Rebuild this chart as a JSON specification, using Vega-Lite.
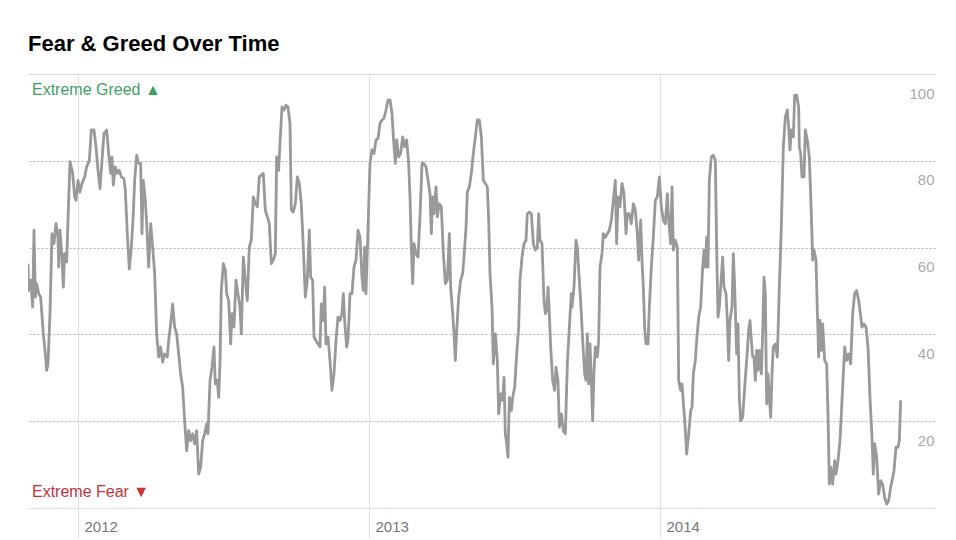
{
  "$schema": "https://vega.github.io/schema/vega-lite/v6.json",
  "width": 907,
  "height": 434,
  "autosize": {"type": "none"},
  "padding": {"left": 28, "top": 74, "right": 21, "bottom": 32},
  "background": "white",
  "title": {"text": "Fear & Greed Over Time", "anchor": "start", "frame": "group", "fontSize": 22, "fontWeight": "bold", "color": "#000000", "offset": 18, "font": "Liberation Sans"},
  "config": {"view": {"stroke": null}, "font": "Liberation Sans"},
  "layer": [
    {
      "data": {"values": [
{"t":2011.8282,"v":56.3},{"t":2011.8305,"v":50.1},{"t":2011.8373,"v":52.5},{"t":2011.8442,"v":46.3},{"t":2011.8488,"v":64},{"t":2011.8534,"v":48.6},{"t":2011.858,"v":51.7},{"t":2011.8648,"v":49.4},{"t":2011.8717,"v":48.6},{"t":2011.8809,"v":40.1},{"t":2011.8877,"v":35.5},{"t":2011.8923,"v":31.7},{"t":2011.8969,"v":33.2},{"t":2011.9038,"v":44.8},{"t":2011.9106,"v":63.2},{"t":2011.9175,"v":60.9},{"t":2011.9244,"v":65.5},{"t":2011.9313,"v":62.4},{"t":2011.9336,"v":55.5},{"t":2011.9381,"v":64},{"t":2011.945,"v":57.8},{"t":2011.9496,"v":50.9},{"t":2011.9542,"v":58.6},{"t":2011.961,"v":56.7},{"t":2011.9656,"v":66.3},{"t":2011.9725,"v":79.8},{"t":2011.9817,"v":77.1},{"t":2011.9885,"v":71.7},{"t":2011.9931,"v":70.9},{"t":2012.0,"v":75.5},{"t":2012.0069,"v":72.8},{"t":2012.0137,"v":74.8},{"t":2012.0229,"v":76.3},{"t":2012.0298,"v":78.6},{"t":2012.0389,"v":80.1},{"t":2012.0458,"v":87.1},{"t":2012.055,"v":87.1},{"t":2012.0618,"v":83.2},{"t":2012.0687,"v":77.8},{"t":2012.0756,"v":73.6},{"t":2012.0825,"v":80.1},{"t":2012.0893,"v":86.3},{"t":2012.0985,"v":87.1},{"t":2012.1054,"v":81.7},{"t":2012.1123,"v":77.1},{"t":2012.1168,"v":80.9},{"t":2012.1214,"v":74.4},{"t":2012.1283,"v":78.6},{"t":2012.1352,"v":77.1},{"t":2012.142,"v":77.8},{"t":2012.1489,"v":76.3},{"t":2012.1581,"v":75.9},{"t":2012.1627,"v":73.2},{"t":2012.1695,"v":63.2},{"t":2012.1764,"v":55.1},{"t":2012.1833,"v":60.1},{"t":2012.1901,"v":67.8},{"t":2012.1947,"v":75.5},{"t":2012.2016,"v":81.3},{"t":2012.2085,"v":79.4},{"t":2012.2153,"v":79.4},{"t":2012.2199,"v":63.2},{"t":2012.2245,"v":75.5},{"t":2012.2314,"v":70.9},{"t":2012.236,"v":65.5},{"t":2012.2428,"v":55.5},{"t":2012.2497,"v":65.5},{"t":2012.2566,"v":60.1},{"t":2012.2635,"v":54},{"t":2012.2703,"v":40.1},{"t":2012.2772,"v":34.8},{"t":2012.2841,"v":37.1},{"t":2012.2909,"v":33.6},{"t":2012.2978,"v":35.5},{"t":2012.307,"v":34.8},{"t":2012.3116,"v":38.6},{"t":2012.3184,"v":42.4},{"t":2012.3253,"v":47},{"t":2012.3322,"v":41.7},{"t":2012.3391,"v":40.1},{"t":2012.3459,"v":35.5},{"t":2012.3528,"v":30.9},{"t":2012.3597,"v":27.8},{"t":2012.3665,"v":20.1},{"t":2012.3734,"v":13.2},{"t":2012.3803,"v":17.8},{"t":2012.3872,"v":15.5},{"t":2012.394,"v":17.1},{"t":2012.4009,"v":14.8},{"t":2012.4078,"v":17.8},{"t":2012.4147,"v":7.8},{"t":2012.4215,"v":9.4},{"t":2012.4284,"v":15.5},{"t":2012.4353,"v":17.1},{"t":2012.4421,"v":19.4},
{"t":2012.4467,"v":17.1},{"t":2012.4536,"v":29.4},{"t":2012.4604,"v":32.4},{"t":2012.4673,"v":37.1},{"t":2012.4719,"v":28.6},{"t":2012.4788,"v":29.4},{"t":2012.4834,"v":25.5},{"t":2012.4879,"v":33.2},{"t":2012.4925,"v":50.1},{"t":2012.4994,"v":56.3},{"t":2012.5063,"v":54.8},{"t":2012.5108,"v":49.4},{"t":2012.5177,"v":47.8},{"t":2012.5246,"v":37.8},{"t":2012.5292,"v":44.8},{"t":2012.536,"v":41.7},{"t":2012.5429,"v":52.5},{"t":2012.5498,"v":49.4},{"t":2012.5567,"v":46.3},{"t":2012.5612,"v":40.1},{"t":2012.5681,"v":57.8},{"t":2012.575,"v":52.5},{"t":2012.5819,"v":47.8},{"t":2012.5887,"v":60.1},{"t":2012.5956,"v":61.7},{"t":2012.6025,"v":71.7},{"t":2012.6093,"v":70.1},{"t":2012.6162,"v":69.4},{"t":2012.6231,"v":76.3},{"t":2012.63,"v":76.7},{"t":2012.6368,"v":77.1},{"t":2012.6437,"v":68.6},{"t":2012.6506,"v":67.1},{"t":2012.6575,"v":65.5},{"t":2012.6643,"v":56.3},{"t":2012.6712,"v":57.1},{"t":2012.6781,"v":58.6},{"t":2012.6827,"v":80.9},{"t":2012.6895,"v":77.8},{"t":2012.6941,"v":84},{"t":2012.701,"v":92.4},{"t":2012.7079,"v":91.7},{"t":2012.7147,"v":92.8},{"t":2012.7216,"v":92.4},{"t":2012.7285,"v":88.6},{"t":2012.7331,"v":68.6},{"t":2012.7399,"v":68.2},{"t":2012.7468,"v":70.1},{"t":2012.7537,"v":76.3},{"t":2012.7606,"v":74.8},{"t":2012.7674,"v":70.1},{"t":2012.7743,"v":60.1},{"t":2012.7812,"v":48.6},{"t":2012.788,"v":52.5},{"t":2012.7949,"v":64},{"t":2012.7995,"v":53.2},{"t":2012.8064,"v":52.5},{"t":2012.811,"v":39.4},{"t":2012.8178,"v":38.6},{"t":2012.8247,"v":37.8},{"t":2012.8316,"v":37.1},{"t":2012.8362,"v":47},{"t":2012.843,"v":43.2},{"t":2012.8476,"v":50.9},{"t":2012.8522,"v":37.8},{"t":2012.8591,"v":39.4},{"t":2012.8659,"v":34},{"t":2012.8728,"v":27.1},{"t":2012.8797,"v":30.9},{"t":2012.8866,"v":38.6},{"t":2012.8934,"v":44},{"t":2012.9003,"v":43.2},{"t":2012.9072,"v":44.8},{"t":2012.9118,"v":49.4},{"t":2012.9163,"v":43.2},{"t":2012.9232,"v":37.1},{"t":2012.9278,"v":38.6},{"t":2012.9347,"v":49.4},{"t":2012.9415,"v":49.4},{"t":2012.9484,"v":55.5},{"t":2012.9553,"v":57.1},{"t":2012.9622,"v":64},{"t":2012.969,"v":62.4},{"t":2012.9759,"v":53.2},{"t":2012.9805,"v":50.1},{"t":2012.9851,"v":60.1},{"t":2012.9896,"v":49.4},{"t":2012.9965,"v":64},{"t":2013.0034,"v":79.4},{"t":2013.0103,"v":82.5},{"t":2013.0171,"v":81.7},{"t":2013.024,"v":84.8},{"t":2013.0309,"v":85.1},{"t":2013.0378,"v":88.6},{"t":2013.0446,"v":89.4},{"t":2013.0515,"v":89.8},{"t":2013.0584,"v":91.7},{"t":2013.0653,"v":94},
{"t":2013.0722,"v":94},{"t":2013.0791,"v":90.9},{"t":2013.0837,"v":85.5},{"t":2013.0905,"v":79.4},{"t":2013.0951,"v":84.8},{"t":2013.102,"v":80.9},{"t":2013.1089,"v":81.7},{"t":2013.1157,"v":85.5},{"t":2013.1226,"v":83.2},{"t":2013.1295,"v":84.8},{"t":2013.1363,"v":79.4},{"t":2013.1409,"v":71.7},{"t":2013.1455,"v":60.1},{"t":2013.1501,"v":51.7},{"t":2013.1547,"v":60.9},{"t":2013.1615,"v":58.6},{"t":2013.1684,"v":57.8},{"t":2013.1753,"v":67.1},{"t":2013.1822,"v":79.4},{"t":2013.189,"v":79.4},{"t":2013.1959,"v":78.6},{"t":2013.2028,"v":75.5},{"t":2013.2097,"v":72.4},{"t":2013.2142,"v":63.2},{"t":2013.2188,"v":71.7},{"t":2013.2234,"v":67.8},{"t":2013.2303,"v":74},{"t":2013.2349,"v":67.1},{"t":2013.2417,"v":70.1},{"t":2013.2486,"v":69.4},{"t":2013.2555,"v":58.6},{"t":2013.2624,"v":51.7},{"t":2013.2692,"v":52.5},{"t":2013.2761,"v":63.2},{"t":2013.2807,"v":50.9},{"t":2013.2876,"v":44.8},{"t":2013.2921,"v":40.1},{"t":2013.2967,"v":34},{"t":2013.3013,"v":40.9},{"t":2013.3082,"v":48.6},{"t":2013.315,"v":52.5},{"t":2013.3219,"v":54},{"t":2013.3265,"v":57.8},{"t":2013.3334,"v":64.7},{"t":2013.338,"v":72.8},{"t":2013.3448,"v":74},{"t":2013.3517,"v":77.1},{"t":2013.3586,"v":81.7},{"t":2013.3654,"v":85.5},{"t":2013.3723,"v":89.4},{"t":2013.3792,"v":89.4},{"t":2013.3861,"v":85.5},{"t":2013.3929,"v":75.5},{"t":2013.3998,"v":74.8},{"t":2013.4067,"v":74},{"t":2013.4113,"v":66.3},{"t":2013.4158,"v":54},{"t":2013.4227,"v":46.3},{"t":2013.4273,"v":33.2},{"t":2013.4342,"v":40.1},{"t":2013.441,"v":34},{"t":2013.4456,"v":21.7},{"t":2013.4525,"v":26.3},{"t":2013.4594,"v":24.8},{"t":2013.464,"v":30.1},{"t":2013.4685,"v":17.1},{"t":2013.4731,"v":14.8},{"t":2013.4777,"v":11.7},{"t":2013.4823,"v":25.5},{"t":2013.4892,"v":22.4},{"t":2013.4937,"v":25.5},{"t":2013.5006,"v":27.8},{"t":2013.5075,"v":35.5},{"t":2013.5144,"v":41.7},{"t":2013.5189,"v":52.5},{"t":2013.5258,"v":57.8},{"t":2013.5327,"v":60.9},{"t":2013.5396,"v":61.7},{"t":2013.5441,"v":67.8},{"t":2013.551,"v":68.2},{"t":2013.5579,"v":67.8},{"t":2013.5648,"v":60.9},{"t":2013.5716,"v":59.4},{"t":2013.5785,"v":60.1},{"t":2013.5831,"v":67.8},{"t":2013.5877,"v":61.7},{"t":2013.5945,"v":60.9},{"t":2013.6014,"v":47.8},{"t":2013.606,"v":44.8},{"t":2013.6106,"v":45.5},{"t":2013.6152,"v":50.9},{"t":2013.6197,"v":44.8},{"t":2013.6243,"v":37.1},{"t":2013.6312,"v":29.4},{"t":2013.6381,"v":27.1},{"t":2013.6427,"v":32.4},{"t":2013.6495,"v":29.4},{"t":2013.6541,"v":18.6},{"t":2013.661,"v":21.7},{"t":2013.6679,"v":17.8},{"t":2013.6747,"v":17.1},{"t":2013.6816,"v":33.2},{"t":2013.6885,"v":41.7},{"t":2013.6953,"v":49.4},
{"t":2013.6976,"v":46.3},{"t":2013.7045,"v":50.9},{"t":2013.7113,"v":61.7},{"t":2013.7159,"v":60.1},{"t":2013.7228,"v":52.5},{"t":2013.7297,"v":44.8},{"t":2013.7343,"v":38.6},{"t":2013.7411,"v":30.9},{"t":2013.7457,"v":29.4},{"t":2013.7503,"v":40.1},{"t":2013.7549,"v":28.6},{"t":2013.7595,"v":37.8},{"t":2013.764,"v":29.4},{"t":2013.7686,"v":20.1},{"t":2013.7732,"v":31.7},{"t":2013.7778,"v":37.1},{"t":2013.7847,"v":34.8},{"t":2013.7892,"v":38.6},{"t":2013.7938,"v":55.5},{"t":2013.8007,"v":58.6},{"t":2013.8053,"v":63.2},{"t":2013.8121,"v":62.4},{"t":2013.819,"v":63.2},{"t":2013.8259,"v":64},{"t":2013.8328,"v":66.3},{"t":2013.8396,"v":70.9},{"t":2013.8465,"v":75.5},{"t":2013.8511,"v":60.9},{"t":2013.8557,"v":71.7},{"t":2013.8625,"v":69.4},{"t":2013.8694,"v":74.8},{"t":2013.8763,"v":72.4},{"t":2013.8832,"v":63.2},{"t":2013.8877,"v":67.8},{"t":2013.8946,"v":67.8},{"t":2013.9015,"v":65.5},{"t":2013.9084,"v":70.1},{"t":2013.9152,"v":68.6},{"t":2013.9221,"v":63.2},{"t":2013.9267,"v":57.1},{"t":2013.9336,"v":66.3},{"t":2013.9381,"v":57.1},{"t":2013.9427,"v":50.9},{"t":2013.9473,"v":41.7},{"t":2013.9519,"v":37.8},{"t":2013.9588,"v":37.8},{"t":2013.9634,"v":46.3},{"t":2013.9702,"v":55.5},{"t":2013.9771,"v":62.4},{"t":2013.984,"v":70.9},{"t":2013.9908,"v":71.7},{"t":2013.9977,"v":76.3},{"t":2014.0046,"v":69.4},{"t":2014.0115,"v":66.3},{"t":2014.0183,"v":65.5},{"t":2014.0252,"v":72.4},{"t":2014.0298,"v":66.3},{"t":2014.0367,"v":60.9},{"t":2014.0413,"v":74},{"t":2014.0458,"v":59.4},{"t":2014.0527,"v":61.7},{"t":2014.0596,"v":60.1},{"t":2014.0642,"v":29.4},{"t":2014.071,"v":27.1},{"t":2014.0756,"v":28.6},{"t":2014.0825,"v":22.4},{"t":2014.0871,"v":17.8},{"t":2014.0916,"v":12.4},{"t":2014.0985,"v":17.1},{"t":2014.1054,"v":22.4},{"t":2014.11,"v":23.2},{"t":2014.1146,"v":30.9},{"t":2014.1214,"v":34},{"t":2014.126,"v":38.6},{"t":2014.1329,"v":44},{"t":2014.1398,"v":46.3},{"t":2014.1466,"v":55.5},{"t":2014.1512,"v":59.4},{"t":2014.1558,"v":55.5},{"t":2014.1604,"v":62.4},{"t":2014.165,"v":55.5},{"t":2014.1695,"v":75.5},{"t":2014.1764,"v":80.9},{"t":2014.1833,"v":81.3},{"t":2014.1902,"v":80.1},{"t":2014.1947,"v":60.1},{"t":2014.1993,"v":44},{"t":2014.2039,"v":46.3},{"t":2014.2085,"v":50.9},{"t":2014.2154,"v":57.8},{"t":2014.2199,"v":50.9},{"t":2014.2268,"v":49.4},{"t":2014.2314,"v":43.2},{"t":2014.236,"v":34},{"t":2014.2405,"v":43.2},{"t":2014.2474,"v":46.3},{"t":2014.252,"v":58.6},{"t":2014.2566,"v":50.9},{"t":2014.2635,"v":35.5},{"t":2014.268,"v":42.4},{"t":2014.2726,"v":25.5},{"t":2014.2772,"v":20.1},{"t":2014.2841,"v":20.9},{"t":2014.291,"v":27.8},{"t":2014.2978,"v":34},{"t":2014.3047,"v":41},{"t":2014.3093,"v":43.2},{"t":2014.3139,"v":38.6},{"t":2014.3185,"v":34.8},
{"t":2014.323,"v":34.8},{"t":2014.3276,"v":29.4},{"t":2014.3322,"v":36.3},{"t":2014.3367,"v":31.7},{"t":2014.3413,"v":36.3},{"t":2014.3482,"v":30.9},{"t":2014.3528,"v":40.1},{"t":2014.3574,"v":53.2},{"t":2014.3619,"v":49.4},{"t":2014.3665,"v":24},{"t":2014.3711,"v":30.9},{"t":2014.3757,"v":25.5},{"t":2014.3803,"v":20.9},{"t":2014.3849,"v":30.9},{"t":2014.3894,"v":37.1},{"t":2014.3963,"v":37.8},{"t":2014.4032,"v":34.8},{"t":2014.4101,"v":50.9},{"t":2014.4169,"v":64.7},{"t":2014.4238,"v":83.2},{"t":2014.4307,"v":90.1},{"t":2014.4375,"v":91.7},{"t":2014.4421,"v":87.8},{"t":2014.4467,"v":82.5},{"t":2014.4513,"v":87.1},{"t":2014.4582,"v":85.5},{"t":2014.4627,"v":95.1},{"t":2014.4696,"v":95.1},{"t":2014.4765,"v":92.4},{"t":2014.4788,"v":83.2},{"t":2014.4834,"v":81.7},{"t":2014.4879,"v":76.3},{"t":2014.4948,"v":76.3},{"t":2014.4994,"v":87.1},{"t":2014.5063,"v":84.8},{"t":2014.5131,"v":80.9},{"t":2014.52,"v":67.8},{"t":2014.5246,"v":57.1},{"t":2014.5292,"v":59.4},{"t":2014.5361,"v":57.1},{"t":2014.5406,"v":45.5},{"t":2014.5452,"v":34.8},{"t":2014.5498,"v":43.2},{"t":2014.5544,"v":36.3},{"t":2014.559,"v":42.4},{"t":2014.5658,"v":34},{"t":2014.5727,"v":33.2},{"t":2014.5773,"v":21.7},{"t":2014.5819,"v":5.5},{"t":2014.5865,"v":9.4},{"t":2014.5933,"v":5.5},{"t":2014.6002,"v":10.9},{"t":2014.6048,"v":7.8},{"t":2014.6117,"v":10.9},{"t":2014.6185,"v":15.5},{"t":2014.6231,"v":21.7},{"t":2014.6277,"v":27.8},{"t":2014.6346,"v":37.1},{"t":2014.6414,"v":34},{"t":2014.6483,"v":35.5},{"t":2014.6552,"v":33.2},{"t":2014.6621,"v":44.8},{"t":2014.6689,"v":49.4},{"t":2014.6758,"v":50.1},{"t":2014.6827,"v":47.8},{"t":2014.6873,"v":45.5},{"t":2014.6941,"v":41.7},{"t":2014.701,"v":42.4},{"t":2014.7079,"v":41.7},{"t":2014.7148,"v":37.1},{"t":2014.7216,"v":25.5},{"t":2014.7285,"v":16.3},{"t":2014.7331,"v":7.8},{"t":2014.7377,"v":14.8},{"t":2014.7445,"v":11.7},{"t":2014.7514,"v":3.2},{"t":2014.7583,"v":6.3},{"t":2014.7652,"v":5.5},{"t":2014.772,"v":2.4},{"t":2014.7789,"v":0.9},{"t":2014.7858,"v":1.7},{"t":2014.7927,"v":4.8},{"t":2014.7995,"v":7.1},{"t":2014.8041,"v":8.6},{"t":2014.811,"v":14},{"t":2014.8179,"v":14},{"t":2014.8224,"v":15.5},{"t":2014.827,"v":24.8}
      ]},
      "mark": {"type": "line", "color": "#999999", "strokeWidth": 2.8, "strokeJoin": "round", "clip": true},
      "encoding": {
        "x": {"field": "t", "type": "quantitative", "scale": {"domain": [2011.8282, 2014.945], "nice": false, "zero": false},
          "axis": {"title": null, "values": [2012, 2013, 2014], "format": "d", "grid": true, "gridColor": "#e0e0e0", "gridWidth": 1,
            "domain": true, "domainColor": "#dddddd", "domainWidth": 1, "ticks": true, "tickSize": 30, "tickColor": "#e0e0e0", "tickWidth": 1,
            "labelAlign": "left", "labelBaseline": "top", "labelOffset": 6, "labelPadding": -19, "labelColor": "#777777", "labelFontSize": 15, "labelFlush": false, "labelFont": "Liberation Sans"}},
        "y": {"field": "v", "type": "quantitative", "scale": {"domain": [0, 100], "nice": false},
          "axis": {"title": null, "orient": "right", "values": [20, 40, 60, 80, 100], "grid": true,
            "gridColor": {"condition": {"test": "datum.value === 100", "value": "#d6d6d6"}, "value": "#b5b5b5"},
            "gridDash": {"condition": {"test": "datum.value === 100", "value": []}, "value": [2, 2]},
            "gridWidth": 1, "domain": false, "ticks": false, "labelAlign": "right", "labelBaseline": "middle", "labelOffset": 19, "labelPadding": -1,
            "labelColor": "#aaaaaa", "labelFontSize": 15, "labelFont": "Liberation Sans"}}
      }
    },
    {
      "data": {"values": [{"t": 2011.8282, "v": 100, "label": "Extreme Greed ▲"}]},
      "mark": {"type": "text", "align": "left", "baseline": "middle", "dx": 4, "dy": 16, "fontSize": 16, "color": "#3f9f5f", "font": "Liberation Sans"},
      "encoding": {"x": {"field": "t", "type": "quantitative"}, "y": {"field": "v", "type": "quantitative"}, "text": {"field": "label"}}
    },
    {
      "data": {"values": [{"t": 2011.8282, "v": 0, "label": "Extreme Fear ▼"}]},
      "mark": {"type": "text", "align": "left", "baseline": "middle", "dx": 4, "dy": -16, "fontSize": 16, "color": "#c8313a", "font": "Liberation Sans"},
      "encoding": {"x": {"field": "t", "type": "quantitative"}, "y": {"field": "v", "type": "quantitative"}, "text": {"field": "label"}}
    }
  ]
}
